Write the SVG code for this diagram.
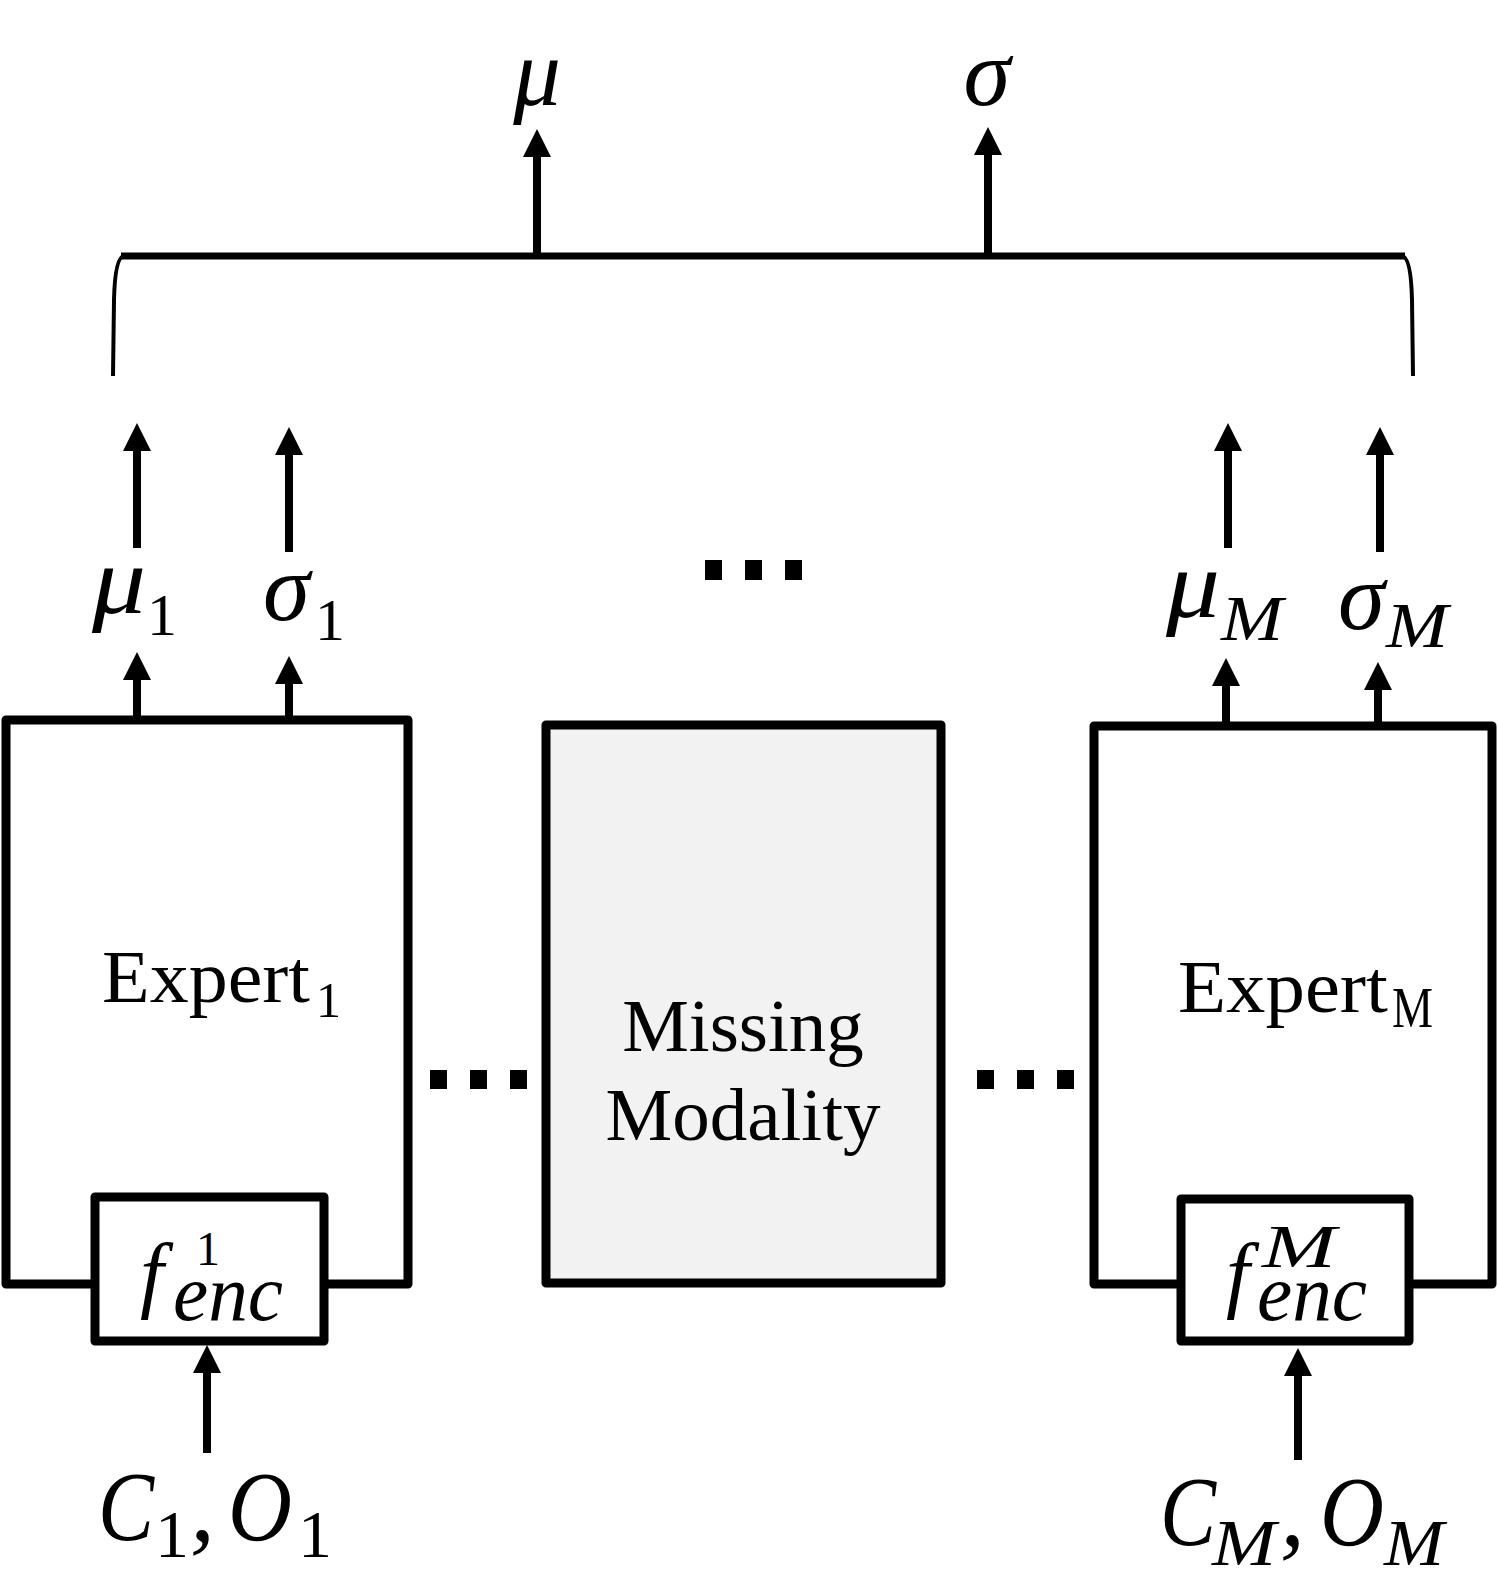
<svg xmlns="http://www.w3.org/2000/svg" width="1498" height="1580" viewBox="0 0 1498 1580">
<style>
.box{fill:#ffffff;stroke:#000;stroke-width:9;stroke-linejoin:round}
.miss{fill:#f2f2f2;stroke:#000;stroke-width:9;stroke-linejoin:round}
.arr{stroke:#000;stroke-width:8;fill:none}
.txt{font-family:"Liberation Serif","Times New Roman",serif;fill:#000}
.mi{font-family:"Liberation Serif","Times New Roman",serif;font-style:italic;fill:#000}
.up{font-style:normal}
.it{font-style:italic}
.dot{fill:#000}
</style>
<defs>
<marker id="ah" viewBox="0 0 28 28" markerWidth="28" markerHeight="28" refX="2" refY="14" orient="auto" markerUnits="userSpaceOnUse">
<path d="M0,0 L28,14 L0,28 z" fill="#000"/>
</marker>
</defs>

<g id="bracket">
<line x1="121" y1="256" x2="1405" y2="256" stroke="#000" stroke-width="7"/>
<path d="M113 376 L114 300 Q115 257 124 256" fill="none" stroke="#000" stroke-width="4"/>
<path d="M1413 376 L1412 300 Q1411 257 1402 256" fill="none" stroke="#000" stroke-width="4"/>
</g>

<g id="expert1">
<rect class="box" x="6" y="720" width="402" height="564"/>
<text class="txt" font-size="75"><tspan x="102" y="1002" textLength="208" lengthAdjust="spacingAndGlyphs">Expert</tspan><tspan x="316" y="1017" font-size="50">1</tspan></text>
</g>
<g id="enc1">
<rect class="box" x="95" y="1197" width="229" height="144"/>
<text class="mi" font-size="85"><tspan x="140" y="1302">f</tspan><tspan class="up" x="196" y="1265" font-size="48">1</tspan><tspan x="173" y="1320" font-size="80" textLength="110" lengthAdjust="spacingAndGlyphs">enc</tspan></text>
</g>

<g id="missing">
<rect class="miss" x="546" y="725" width="395" height="558"/>
<text class="txt" x="743" y="1051" font-size="75" text-anchor="middle">Missing</text>
<text class="txt" x="743" y="1140" font-size="75" text-anchor="middle">Modality</text>
</g>

<g id="expertM">
<rect class="box" x="1094" y="726" width="398" height="558"/>
<text class="txt" font-size="75"><tspan x="1178" y="1012" textLength="210" lengthAdjust="spacingAndGlyphs">Expert</tspan><tspan x="1392" y="1027" font-size="56" textLength="41" lengthAdjust="spacingAndGlyphs">M</tspan></text>
</g>
<g id="encM">
<rect class="box" x="1181" y="1199" width="228" height="142"/>
<text class="mi" font-size="85"><tspan x="1226" y="1302">f</tspan><tspan x="1262" y="1267" font-size="62" textLength="74" lengthAdjust="spacingAndGlyphs">M</tspan><tspan x="1257" y="1320" font-size="80" textLength="110" lengthAdjust="spacingAndGlyphs">enc</tspan></text>
</g>

<g id="label-mu">
<text class="mi" x="537" y="105" font-size="95" text-anchor="middle">μ</text>
</g>
<g id="label-sigma">
<text class="mi" x="987" y="105" font-size="95" text-anchor="middle">σ</text>
</g>
<g id="label-mu1">
<text class="mi" font-size="95"><tspan x="92" y="613" textLength="54" lengthAdjust="spacingAndGlyphs">μ</tspan><tspan class="up" x="147" y="635" font-size="60">1</tspan></text>
</g>
<g id="label-sigma1">
<text class="mi" font-size="95"><tspan x="263" y="620">σ</tspan><tspan class="up" x="315" y="640" font-size="60">1</tspan></text>
</g>
<g id="label-muM">
<text class="mi" font-size="95"><tspan x="1166" y="617" textLength="54" lengthAdjust="spacingAndGlyphs">μ</tspan><tspan x="1221" y="640" font-size="64" textLength="62" lengthAdjust="spacingAndGlyphs">M</tspan></text>
</g>
<g id="label-sigmaM">
<text class="mi" font-size="95"><tspan x="1338" y="629">σ</tspan><tspan x="1386" y="647" font-size="64" textLength="62" lengthAdjust="spacingAndGlyphs">M</tspan></text>
</g>
<g id="label-in1">
<text class="mi" font-size="100"><tspan x="98" y="1540" textLength="56" lengthAdjust="spacingAndGlyphs">C</tspan><tspan class="up" x="155" y="1557" font-size="68">1</tspan><tspan x="190" y="1540">,</tspan><tspan x="228" y="1540" textLength="64" lengthAdjust="spacingAndGlyphs">O</tspan><tspan class="up" x="298" y="1557" font-size="68">1</tspan></text>
</g>
<g id="label-inM">
<text class="mi" font-size="100"><tspan x="1160" y="1545" textLength="56" lengthAdjust="spacingAndGlyphs">C</tspan><tspan x="1212" y="1565" font-size="66" textLength="64" lengthAdjust="spacingAndGlyphs">M</tspan><tspan x="1280" y="1545">,</tspan><tspan x="1320" y="1545" textLength="64" lengthAdjust="spacingAndGlyphs">O</tspan><tspan x="1384" y="1565" font-size="66" textLength="60" lengthAdjust="spacingAndGlyphs">M</tspan></text>
</g>

<g id="ellipses">
<rect class="dot" x="705" y="560" width="17" height="20"/>
<rect class="dot" x="745" y="560" width="17" height="20"/>
<rect class="dot" x="785" y="560" width="17" height="20"/>
<rect class="dot" x="430" y="1070" width="17" height="19"/>
<rect class="dot" x="470" y="1070" width="17" height="19"/>
<rect class="dot" x="510" y="1070" width="17" height="19"/>
<rect class="dot" x="977" y="1070" width="17" height="19"/>
<rect class="dot" x="1017" y="1070" width="17" height="19"/>
<rect class="dot" x="1057" y="1070" width="17" height="19"/>
</g>

<g id="connectors">
<line class="arr" x1="537" y1="256" x2="537" y2="155" marker-end="url(#ah)"/>
<line class="arr" x1="988" y1="256" x2="988" y2="153" marker-end="url(#ah)"/>
<line class="arr" x1="137" y1="548" x2="137" y2="449" marker-end="url(#ah)"/>
<line class="arr" x1="289" y1="552" x2="289" y2="453" marker-end="url(#ah)"/>
<line class="arr" x1="1228" y1="548" x2="1228" y2="449" marker-end="url(#ah)"/>
<line class="arr" x1="1380" y1="552" x2="1380" y2="453" marker-end="url(#ah)"/>
<line class="arr" x1="137" y1="716" x2="137" y2="678" marker-end="url(#ah)"/>
<line class="arr" x1="289" y1="716" x2="289" y2="682" marker-end="url(#ah)"/>
<line class="arr" x1="1226" y1="722" x2="1226" y2="684" marker-end="url(#ah)"/>
<line class="arr" x1="1378" y1="722" x2="1378" y2="688" marker-end="url(#ah)"/>
<line class="arr" x1="207" y1="1453" x2="207" y2="1371" marker-end="url(#ah)"/>
<line class="arr" x1="1298" y1="1460" x2="1298" y2="1374" marker-end="url(#ah)"/>
</g>
</svg>
